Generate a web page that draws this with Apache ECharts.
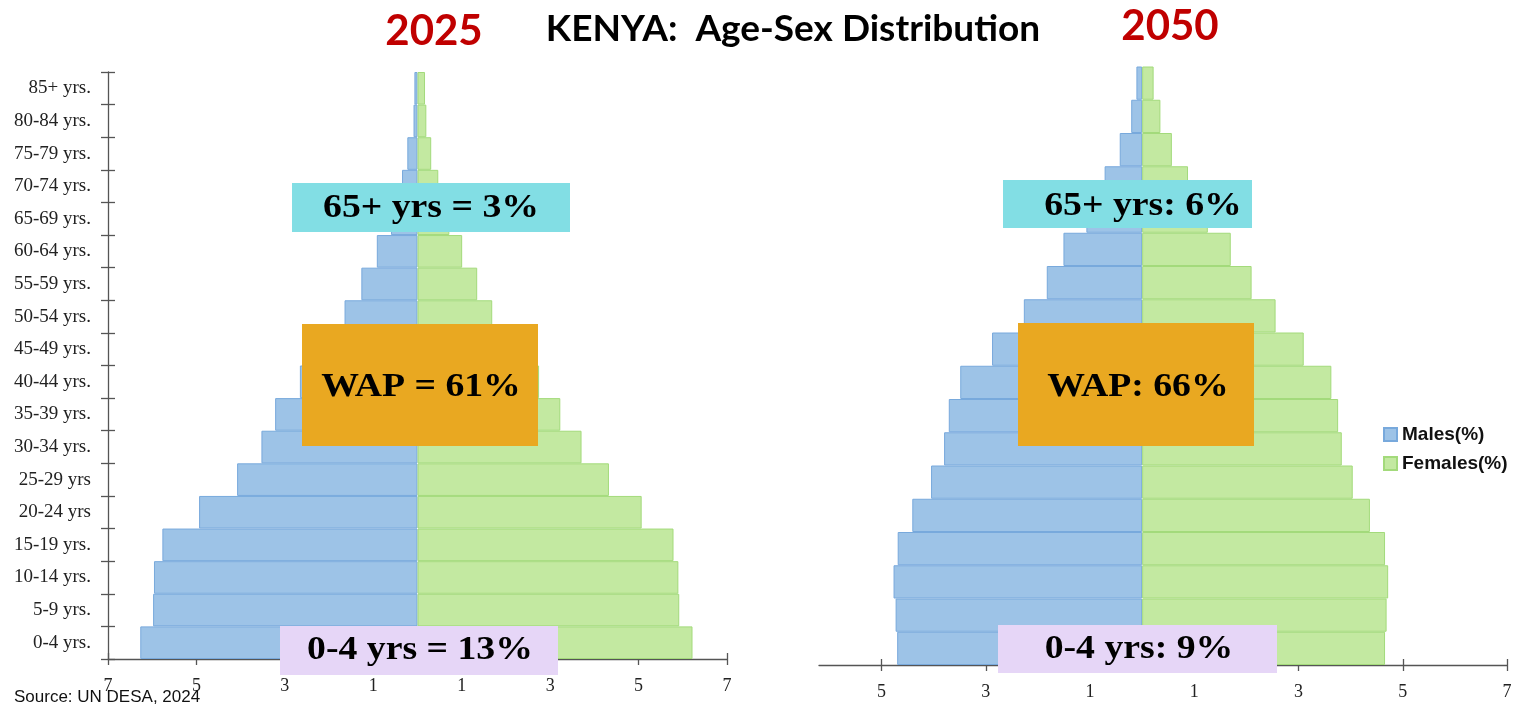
<!DOCTYPE html>
<html>
<head>
<meta charset="utf-8">
<script src="https://cdn.jsdelivr.net/npm/echarts@6/dist/echarts.min.js"></script>
<style>
html,body{margin:0;padding:0;background:#fff;}
#c{width:1533px;height:707px;}
</style>
</head>
<body>
<div id="c"></div>
<script>
// ---- data ----
const ageGroups = ['0-4 yrs.','5-9 yrs.','10-14 yrs.','15-19 yrs.','20-24 yrs','25-29 yrs','30-34 yrs.','35-39 yrs.','40-44 yrs.','45-49 yrs.','50-54 yrs.','55-59 yrs.','60-64 yrs.','65-69 yrs.','70-74 yrs.','75-79 yrs.','80-84 yrs.','85+ yrs.'];
const males2025   = [6.27, 5.98, 5.96, 5.77, 4.94, 4.08, 3.53, 3.22, 2.66, 2.30, 1.65, 1.27, 0.92, 0.60, 0.35, 0.23, 0.09, 0.07];
const females2025 = [6.22, 5.92, 5.90, 5.79, 5.07, 4.33, 3.71, 3.23, 2.75, 2.35, 1.69, 1.35, 1.01, 0.72, 0.47, 0.31, 0.20, 0.17];
const males2050   = [4.70, 4.73, 4.77, 4.69, 4.41, 4.05, 3.80, 3.71, 3.49, 2.88, 2.27, 1.83, 1.51, 1.07, 0.72, 0.43, 0.21, 0.11];
const females2050 = [4.66, 4.69, 4.72, 4.66, 4.37, 4.04, 3.83, 3.76, 3.63, 3.10, 2.56, 2.10, 1.70, 1.26, 0.88, 0.57, 0.35, 0.22];
const ticksLeft  = [-7, -5, -3, -1, 1, 3, 5, 7];
const ticksRight = [-5, -3, -1, 1, 3, 5, 7];
const seriesNames = ['Males(%)', 'Females(%)'];
const titleText = 'KENYA:  Age-Sex Distribution';
const yearLabels = ['2025', '2050'];
const notes2025 = ['65+ yrs = 3%', 'WAP = 61%', '0-4 yrs = 13%'];
const notes2050 = ['65+ yrs: 6%', 'WAP: 66%', '0-4 yrs: 9%'];
const sourceText = 'Source: UN DESA, 2024';

// ---- styles ----
const MALE = '#9DC3E7', MALE_B = '#78A9DC';
const FEM = '#C3E9A1', FEM_B = '#A3DA7B';
const AX = '#555';
const SERIF = '"Liberation Serif","Times New Roman",serif';
const SANS = '"Liberation Sans",Arial,sans-serif';
const TITLEF = 'Lato,"Liberation Sans",sans-serif';

const chart = echarts.init(document.getElementById('c'), null, {renderer: 'canvas'});

function xAxisPair(gi, min, max, ticks) {
  return [
    {
      type: 'value', gridIndex: gi, min: min, max: max, position: 'bottom',
      axisLine: {show: true, onZero: false, lineStyle: {color: AX, width: 1.3}},
      axisTick: {show: true, inside: false, length: 6, customValues: ticks, lineStyle: {color: AX, width: 1.3}},
      axisLabel: {show: true, customValues: ticks, formatter: v => String(Math.abs(v)), margin: 18,
        fontFamily: SERIF, fontSize: 18, color: '#222'},
      splitLine: {show: false}
    },
    {
      type: 'value', gridIndex: gi, min: min, max: max, position: 'bottom',
      axisLine: {show: false, onZero: false},
      axisTick: {show: true, inside: true, length: 6, customValues: ticks, lineStyle: {color: AX, width: 1.3}},
      axisLabel: {show: false},
      splitLine: {show: false}
    }
  ];
}

function boxGroup(x, y, w, h, color, text, tx, ty) {
  return {
    type: 'group', z: 100,
    children: [
      {type: 'rect', shape: {x: x, y: y, width: w, height: h}, style: {fill: color}, z: 100},
      {type: 'text', x: tx, y: ty, scaleX: 1.11, z: 101,
        style: {text: text, fill: '#000', font: 'bold 34px ' + SERIF, align: 'center', verticalAlign: 'middle'}}
    ]
  };
}

const option = {
  animation: false,
  backgroundColor: '#fff',
  grid: [
    {left: 108, top: 72, width: 619, height: 587, containLabel: false},
    {left: 819, top: 66.5, width: 688, height: 598.5, containLabel: false}
  ],
  legend: {
    orient: 'vertical', left: 1378, top: 420, itemWidth: 13, itemHeight: 13, itemGap: 10,
    icon: 'rect',
    data: seriesNames,
    textStyle: {fontFamily: SANS, fontWeight: 'bold', fontSize: 19, color: '#111'}
  },
  xAxis: [].concat(xAxisPair(0, -7, 7, ticksLeft), xAxisPair(1, -6.2, 7, ticksRight)),
  yAxis: [
    {
      type: 'category', gridIndex: 0, data: ageGroups, position: 'left',
      axisLine: {show: true, onZero: false, lineStyle: {color: AX, width: 1.3}},
      axisTick: {show: true, inside: false, length: 7, lineStyle: {color: AX, width: 1.3}},
      axisLabel: {margin: 17, fontFamily: SERIF, fontSize: 19, color: '#222'}
    },
    {
      type: 'category', gridIndex: 0, data: ageGroups, position: 'left',
      axisLine: {show: false, onZero: false},
      axisTick: {show: true, inside: true, length: 7, lineStyle: {color: AX, width: 1.3}},
      axisLabel: {show: false}
    },
    {
      type: 'category', gridIndex: 1, data: ageGroups,
      axisLine: {show: false, onZero: false}, axisTick: {show: false}, axisLabel: {show: false}
    }
  ],
  series: [
    {name: seriesNames[0], type: 'bar', xAxisIndex: 0, yAxisIndex: 0, stack: 'a', barCategoryGap: '0%',
      data: males2025.map(v => -v), itemStyle: {color: MALE, borderColor: MALE_B, borderWidth: 1}},
    {name: seriesNames[1], type: 'bar', xAxisIndex: 0, yAxisIndex: 0, stack: 'a', barCategoryGap: '0%',
      data: females2025, itemStyle: {color: FEM, borderColor: FEM_B, borderWidth: 1}},
    {name: seriesNames[0], type: 'bar', xAxisIndex: 2, yAxisIndex: 2, stack: 'b', barCategoryGap: '0%',
      data: males2050.map(v => -v), itemStyle: {color: MALE, borderColor: MALE_B, borderWidth: 1}},
    {name: seriesNames[1], type: 'bar', xAxisIndex: 2, yAxisIndex: 2, stack: 'b', barCategoryGap: '0%',
      data: females2050, itemStyle: {color: FEM, borderColor: FEM_B, borderWidth: 1}}
  ],
  graphic: [
    {type: 'text', x: 793, y: 29, z: 100, style: {text: titleText, font: 'bold 37px ' + TITLEF, fill: '#000', align: 'center', verticalAlign: 'middle'}},
    {type: 'text', x: 434, y: 31, z: 100, style: {text: yearLabels[0], font: 'bold 42px ' + TITLEF, fill: '#C00000', align: 'center', verticalAlign: 'middle'}},
    {type: 'text', x: 1170, y: 26, z: 100, style: {text: yearLabels[1], font: 'bold 42px ' + TITLEF, fill: '#C00000', align: 'center', verticalAlign: 'middle'}},
    {type: 'text', x: 14, y: 697, z: 100, style: {text: sourceText, font: '17px ' + SANS, fill: '#111', align: 'left', verticalAlign: 'middle'}},
    boxGroup(292, 183, 278, 49, '#82DEE4', notes2025[0], 431, 208),
    boxGroup(302, 324, 236, 122, '#E9A821', notes2025[1], 421, 387),
    boxGroup(280, 626, 278, 49, '#E6D6F7', notes2025[2], 420, 650),
    boxGroup(1003, 180, 249, 48, '#82DEE4', notes2050[0], 1143, 206),
    boxGroup(1018, 323, 236, 123, '#E9A821', notes2050[1], 1138, 387),
    boxGroup(998, 625, 279, 48, '#E6D6F7', notes2050[2], 1139, 649)
  ]
};
chart.setOption(option);
</script>
</body>
</html>
